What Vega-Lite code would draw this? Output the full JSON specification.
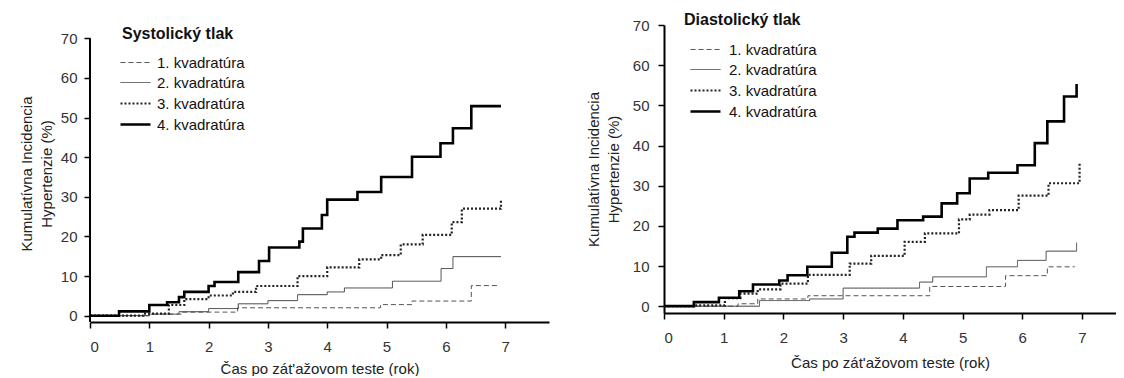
{
  "$schema": "https://vega.github.io/schema/vega-lite/v6.json",
  "background": "white",
  "padding": {"left": 19, "top": 12, "right": 0, "bottom": 0},
  "spacing": 115,
  "bounds": "flush",
  "config": {
    "view": {"stroke": null},
    "font": "Liberation Sans",
    "axis": {"domainColor": "black", "domainWidth": 2, "tickColor": "black", "tickWidth": 1.5, "tickSize": 6, "labelFont": "Liberation Sans", "labelFontSize": 15, "labelColor": "#333", "titleFont": "Liberation Sans", "titleFontSize": 15, "titleFontWeight": "normal", "titleColor": "#222", "grid": false, "format": "d"},
    "title": {"font": "Liberation Sans", "fontSize": 16, "fontWeight": "bold", "color": "#111", "anchor": "start", "frame": "group", "baseline": "alphabetic"}
  },
  "datasets": {
    "sys": [
      {"q": "1. kvadratúra", "t": 0, "v": 0}, {"q": "1. kvadratúra", "t": 1.0, "v": 0.4}, {"q": "1. kvadratúra", "t": 1.56, "v": 0.9}, {"q": "1. kvadratúra", "t": 2.49, "v": 2.0}, {"q": "1. kvadratúra", "t": 4.9, "v": 2.8}, {"q": "1. kvadratúra", "t": 5.43, "v": 3.7}, {"q": "1. kvadratúra", "t": 6.43, "v": 7.6}, {"q": "1. kvadratúra", "t": 6.88, "v": 7.6},
      {"q": "2. kvadratúra", "t": 0, "v": 0}, {"q": "2. kvadratúra", "t": 1.0, "v": 0.4}, {"q": "2. kvadratúra", "t": 1.5, "v": 1.0}, {"q": "2. kvadratúra", "t": 2.0, "v": 1.8}, {"q": "2. kvadratúra", "t": 2.5, "v": 3.0}, {"q": "2. kvadratúra", "t": 3.0, "v": 3.8}, {"q": "2. kvadratúra", "t": 3.5, "v": 5.3}, {"q": "2. kvadratúra", "t": 4.0, "v": 6.0}, {"q": "2. kvadratúra", "t": 4.29, "v": 7.0}, {"q": "2. kvadratúra", "t": 5.1, "v": 8.7}, {"q": "2. kvadratúra", "t": 5.92, "v": 11.9}, {"q": "2. kvadratúra", "t": 6.12, "v": 14.9}, {"q": "2. kvadratúra", "t": 6.93, "v": 14.9},
      {"q": "3. kvadratúra", "t": 0, "v": 0}, {"q": "3. kvadratúra", "t": 0.9, "v": 0.5}, {"q": "3. kvadratúra", "t": 1.33, "v": 2.7}, {"q": "3. kvadratúra", "t": 1.59, "v": 4.2}, {"q": "3. kvadratúra", "t": 2.0, "v": 5.1}, {"q": "3. kvadratúra", "t": 2.41, "v": 6.0}, {"q": "3. kvadratúra", "t": 2.8, "v": 7.5}, {"q": "3. kvadratúra", "t": 3.5, "v": 10.0}, {"q": "3. kvadratúra", "t": 4.0, "v": 12.2}, {"q": "3. kvadratúra", "t": 4.54, "v": 14.2}, {"q": "3. kvadratúra", "t": 4.91, "v": 15.3}, {"q": "3. kvadratúra", "t": 5.24, "v": 18.0}, {"q": "3. kvadratúra", "t": 5.61, "v": 20.4}, {"q": "3. kvadratúra", "t": 6.1, "v": 23.6}, {"q": "3. kvadratúra", "t": 6.27, "v": 27.0}, {"q": "3. kvadratúra", "t": 6.93, "v": 27.0}, {"q": "3. kvadratúra", "t": 6.93, "v": 29.3},
      {"q": "4. kvadratúra", "t": 0, "v": 0}, {"q": "4. kvadratúra", "t": 0.49, "v": 1.1}, {"q": "4. kvadratúra", "t": 1.0, "v": 2.7}, {"q": "4. kvadratúra", "t": 1.3, "v": 3.4}, {"q": "4. kvadratúra", "t": 1.5, "v": 4.7}, {"q": "4. kvadratúra", "t": 1.59, "v": 6.0}, {"q": "4. kvadratúra", "t": 2.0, "v": 7.5}, {"q": "4. kvadratúra", "t": 2.1, "v": 8.5}, {"q": "4. kvadratúra", "t": 2.5, "v": 11.0}, {"q": "4. kvadratúra", "t": 2.85, "v": 13.8}, {"q": "4. kvadratúra", "t": 3.02, "v": 17.2}, {"q": "4. kvadratúra", "t": 3.53, "v": 18.7}, {"q": "4. kvadratúra", "t": 3.59, "v": 22.0}, {"q": "4. kvadratúra", "t": 3.91, "v": 25.4}, {"q": "4. kvadratúra", "t": 4.0, "v": 29.3}, {"q": "4. kvadratúra", "t": 4.51, "v": 31.2}, {"q": "4. kvadratúra", "t": 4.91, "v": 35.0}, {"q": "4. kvadratúra", "t": 5.43, "v": 40.1}, {"q": "4. kvadratúra", "t": 5.91, "v": 43.5}, {"q": "4. kvadratúra", "t": 6.12, "v": 47.3}, {"q": "4. kvadratúra", "t": 6.43, "v": 52.9}, {"q": "4. kvadratúra", "t": 6.93, "v": 52.9}
    ],
    "dia": [
      {"q": "1. kvadratúra", "t": 0, "v": 0}, {"q": "1. kvadratúra", "t": 1.24, "v": 0.6}, {"q": "1. kvadratúra", "t": 1.57, "v": 1.8}, {"q": "1. kvadratúra", "t": 2.41, "v": 2.6}, {"q": "1. kvadratúra", "t": 4.45, "v": 4.9}, {"q": "1. kvadratúra", "t": 5.72, "v": 7.6}, {"q": "1. kvadratúra", "t": 6.42, "v": 9.8}, {"q": "1. kvadratúra", "t": 6.88, "v": 9.8},
      {"q": "2. kvadratúra", "t": 0, "v": 0}, {"q": "2. kvadratúra", "t": 1.6, "v": 1.4}, {"q": "2. kvadratúra", "t": 2.44, "v": 1.8}, {"q": "2. kvadratúra", "t": 3.0, "v": 4.5}, {"q": "2. kvadratúra", "t": 4.28, "v": 6.0}, {"q": "2. kvadratúra", "t": 4.5, "v": 7.3}, {"q": "2. kvadratúra", "t": 5.4, "v": 9.8}, {"q": "2. kvadratúra", "t": 5.92, "v": 11.4}, {"q": "2. kvadratúra", "t": 6.4, "v": 13.7}, {"q": "2. kvadratúra", "t": 6.91, "v": 13.7}, {"q": "2. kvadratúra", "t": 6.91, "v": 15.8},
      {"q": "3. kvadratúra", "t": 0, "v": 0}, {"q": "3. kvadratúra", "t": 0.5, "v": 0.2}, {"q": "3. kvadratúra", "t": 1.02, "v": 2.0}, {"q": "3. kvadratúra", "t": 1.28, "v": 3.1}, {"q": "3. kvadratúra", "t": 1.57, "v": 4.2}, {"q": "3. kvadratúra", "t": 1.95, "v": 5.6}, {"q": "3. kvadratúra", "t": 2.41, "v": 7.8}, {"q": "3. kvadratúra", "t": 3.11, "v": 10.6}, {"q": "3. kvadratúra", "t": 3.47, "v": 12.5}, {"q": "3. kvadratúra", "t": 4.03, "v": 16.0}, {"q": "3. kvadratúra", "t": 4.37, "v": 18.1}, {"q": "3. kvadratúra", "t": 4.94, "v": 21.6}, {"q": "3. kvadratúra", "t": 5.12, "v": 22.8}, {"q": "3. kvadratúra", "t": 5.45, "v": 23.9}, {"q": "3. kvadratúra", "t": 5.94, "v": 27.5}, {"q": "3. kvadratúra", "t": 6.44, "v": 30.6}, {"q": "3. kvadratúra", "t": 6.96, "v": 30.6}, {"q": "3. kvadratúra", "t": 6.96, "v": 35.6},
      {"q": "4. kvadratúra", "t": 0, "v": 0}, {"q": "4. kvadratúra", "t": 0.5, "v": 1.0}, {"q": "4. kvadratúra", "t": 0.92, "v": 2.1}, {"q": "4. kvadratúra", "t": 1.26, "v": 3.7}, {"q": "4. kvadratúra", "t": 1.49, "v": 5.4}, {"q": "4. kvadratúra", "t": 1.93, "v": 6.4}, {"q": "4. kvadratúra", "t": 2.07, "v": 7.7}, {"q": "4. kvadratúra", "t": 2.4, "v": 9.8}, {"q": "4. kvadratúra", "t": 2.81, "v": 13.3}, {"q": "4. kvadratúra", "t": 3.07, "v": 17.3}, {"q": "4. kvadratúra", "t": 3.19, "v": 18.3}, {"q": "4. kvadratúra", "t": 3.58, "v": 19.3}, {"q": "4. kvadratúra", "t": 3.91, "v": 21.4}, {"q": "4. kvadratúra", "t": 4.34, "v": 22.3}, {"q": "4. kvadratúra", "t": 4.65, "v": 25.6}, {"q": "4. kvadratúra", "t": 4.91, "v": 28.1}, {"q": "4. kvadratúra", "t": 5.12, "v": 31.8}, {"q": "4. kvadratúra", "t": 5.43, "v": 33.2}, {"q": "4. kvadratúra", "t": 5.92, "v": 35.1}, {"q": "4. kvadratúra", "t": 6.21, "v": 40.6}, {"q": "4. kvadratúra", "t": 6.42, "v": 46.0}, {"q": "4. kvadratúra", "t": 6.7, "v": 52.2}, {"q": "4. kvadratúra", "t": 6.91, "v": 52.2}, {"q": "4. kvadratúra", "t": 6.91, "v": 55.3}
    ]
  },
  "resolve": {
    "scale": {"x": "independent", "y": "independent", "color": "independent", "strokeDash": "independent", "strokeWidth": "independent"},
    "legend": {"color": "independent", "strokeDash": "independent", "strokeWidth": "independent"}
  },
  "hconcat": [
    {
      "width": 459,
      "height": 297,
      "title": {"text": "Systolický tlak", "dx": 32, "offset": -17},
      "layer": [
        {
          "data": {"name": "sys"},
          "mark": {"type": "line", "interpolate": "step-after"},
          "encoding": {
            "x": {"field": "t", "type": "quantitative", "scale": {"domain": [0, 7.74], "nice": false, "zero": false}, "axis": {"values": [0, 1, 2, 3, 4, 5, 6, 7], "title": "Čas po zát'ažovom teste (rok)", "labelPadding": 11, "titlePadding": 7}},
            "y": {"field": "v", "type": "quantitative", "scale": {"domain": [-1.59, 73.36], "nice": false, "zero": false}, "axis": {"values": [0, 10, 20, 30, 40, 50, 60, 70], "domain": false, "title": ["Kumulatívna Incidencia", "Hypertenzie (%)"], "titleLineHeight": 20, "labelPadding": 7, "titlePadding": 6}},
            "color": {"field": "q", "type": "nominal", "scale": {"domain": ["1. kvadratúra", "2. kvadratúra", "3. kvadratúra", "4. kvadratúra"], "range": ["#555555", "#444444", "#222222", "#000000"]}, "legend": {"title": null, "orient": "none", "legendX": 34, "legendY": 27, "symbolType": "M-1.5,0H1.5", "symbolSize": 400, "labelFontSize": 15, "labelColor": "#111", "labelOffset": 10, "rowPadding": 1, "padding": 0}},
            "strokeDash": {"field": "q", "type": "nominal", "scale": {"domain": ["1. kvadratúra", "2. kvadratúra", "3. kvadratúra", "4. kvadratúra"], "range": [[5, 3], [1, 0], [2, 2], [1, 0]]}, "legend": {"title": null, "orient": "none", "legendX": 34, "legendY": 27, "symbolType": "M-1.5,0H1.5", "symbolSize": 400, "labelFontSize": 15, "labelColor": "#111", "labelOffset": 10, "rowPadding": 1, "padding": 0}},
            "strokeWidth": {"field": "q", "type": "nominal", "scale": {"type": "ordinal", "domain": ["1. kvadratúra", "2. kvadratúra", "3. kvadratúra", "4. kvadratúra"], "range": [1, 1, 2.2, 2.6]}, "legend": {"title": null, "orient": "none", "legendX": 34, "legendY": 27, "symbolType": "M-1.5,0H1.5", "symbolSize": 400, "labelFontSize": 15, "labelColor": "#111", "labelOffset": 10, "rowPadding": 1, "padding": 0}},
            "order": {"value": null}
          }
        },
        {
          "data": {"values": [{}]},
          "mark": {"type": "rule", "color": "black", "strokeWidth": 2},
          "encoding": {
            "x": {"datum": 0, "type": "quantitative"},
            "y": {"datum": -1.59, "type": "quantitative"},
            "y2": {"datum": 70}
          }
        }
      ]
    },
    {
      "width": 452,
      "height": 288,
      "title": {"text": "Diastolický tlak", "dx": 20, "offset": -10},
      "data": {"name": "dia"},
      "mark": {"type": "line", "interpolate": "step-after"},
      "encoding": {
        "x": {"field": "t", "type": "quantitative", "scale": {"domain": [0, 7.57], "nice": false, "zero": false}, "axis": {"values": [0, 1, 2, 3, 4, 5, 6, 7], "title": "Čas po zát'ažovom teste (rok)", "labelPadding": 11, "titlePadding": 10}},
        "y": {"field": "v", "type": "quantitative", "scale": {"domain": [-1.7, 70], "nice": false, "zero": false}, "axis": {"values": [0, 10, 20, 30, 40, 50, 60, 70], "title": ["Kumulatívna Incidencia", "Hypertenzie (%)"], "titleLineHeight": 20, "labelPadding": 9, "titlePadding": 11}},
        "color": {"field": "q", "type": "nominal", "scale": {"domain": ["1. kvadratúra", "2. kvadratúra", "3. kvadratúra", "4. kvadratúra"], "range": ["#555555", "#444444", "#222222", "#000000"]}, "legend": {"title": null, "orient": "none", "legendX": 30, "legendY": 14, "symbolType": "M-1.5,0H1.5", "symbolSize": 400, "labelFontSize": 15, "labelColor": "#111", "labelOffset": 12, "rowPadding": 1, "padding": 0}},
        "strokeDash": {"field": "q", "type": "nominal", "scale": {"domain": ["1. kvadratúra", "2. kvadratúra", "3. kvadratúra", "4. kvadratúra"], "range": [[5, 3], [1, 0], [2, 2], [1, 0]]}, "legend": {"title": null, "orient": "none", "legendX": 30, "legendY": 14, "symbolType": "M-1.5,0H1.5", "symbolSize": 400, "labelFontSize": 15, "labelColor": "#111", "labelOffset": 12, "rowPadding": 1, "padding": 0}},
        "strokeWidth": {"field": "q", "type": "nominal", "scale": {"type": "ordinal", "domain": ["1. kvadratúra", "2. kvadratúra", "3. kvadratúra", "4. kvadratúra"], "range": [1, 1, 2.2, 2.6]}, "legend": {"title": null, "orient": "none", "legendX": 30, "legendY": 14, "symbolType": "M-1.5,0H1.5", "symbolSize": 400, "labelFontSize": 15, "labelColor": "#111", "labelOffset": 12, "rowPadding": 1, "padding": 0}},
        "order": {"value": null}
      }
    }
  ]
}
